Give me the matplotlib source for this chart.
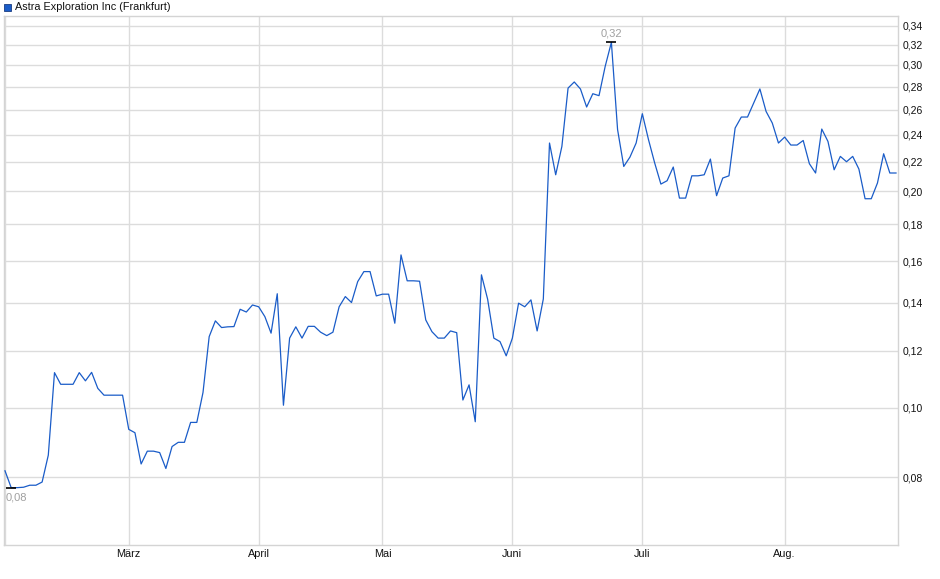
import matplotlib
matplotlib.use('Agg')
import matplotlib.pyplot as plt
from matplotlib.ticker import FixedLocator, NullLocator, FuncFormatter
from matplotlib.patches import Rectangle
import numpy as np

# daily closing prices (EUR), one value per trading day
price = [0.0817, 0.0774, 0.0774, 0.0775, 0.0780, 0.0780, 0.0788, 0.0859, 0.1119, 0.1078,
         0.1078, 0.1078, 0.1119, 0.1090, 0.1120, 0.1064, 0.1041, 0.1041, 0.1041, 0.1041,
         0.0933, 0.0923, 0.0835, 0.0870, 0.0870, 0.0866, 0.0823, 0.0883, 0.0895, 0.0895,
         0.0954, 0.0954, 0.1050, 0.1256, 0.1321, 0.1293, 0.1296, 0.1297, 0.1371, 0.1359,
         0.1390, 0.1382, 0.1339, 0.1270, 0.1441, 0.1008, 0.1250, 0.1296, 0.1250, 0.1298,
         0.1298, 0.1274, 0.1260, 0.1274, 0.1382, 0.1428, 0.1401, 0.1498, 0.1547, 0.1547,
         0.1431, 0.1439, 0.1439, 0.1311, 0.1632, 0.1502, 0.1502, 0.1500, 0.1325, 0.1276,
         0.1250, 0.1250, 0.1279, 0.1272, 0.1025, 0.1076, 0.0956, 0.1531, 0.1416, 0.1250,
         0.1236, 0.1181, 0.1250, 0.1398, 0.1382, 0.1413, 0.1279, 0.1417, 0.2336, 0.2110,
         0.2311, 0.2786, 0.2841, 0.2778, 0.2622, 0.2736, 0.2719, 0.2987, 0.3226, 0.2439,
         0.2167, 0.2233, 0.2336, 0.2566, 0.2361, 0.2191, 0.2048, 0.2070, 0.2163, 0.1958,
         0.1958, 0.2103, 0.2103, 0.2110, 0.2219, 0.1973, 0.2088, 0.2103, 0.2451, 0.2539,
         0.2539, 0.2656, 0.2778, 0.2585, 0.2491, 0.2336, 0.2381, 0.2321, 0.2321, 0.2355,
         0.2186, 0.2122, 0.2443, 0.2348, 0.2144, 0.2238, 0.2200, 0.2238, 0.2149, 0.1954,
         0.1954, 0.2055, 0.2257, 0.2122, 0.2122]

# first trading day of each month (index into price)
month_labels = ['März', 'April', 'Mai', 'Juni', 'Juli', 'Aug.']
month_first_day = [20, 41, 61, 82, 103, 126]

y_ticks = [0.08, 0.10, 0.12, 0.14, 0.16, 0.18, 0.20, 0.22, 0.24, 0.26, 0.28, 0.30, 0.32, 0.34]

title = 'Astra Exploration Inc (Frankfurt)'
line_col = '#1a5cc8'
grid_col = '#dcdcdc'

plt.rcParams['font.family'] = ['Liberation Sans', 'DejaVu Sans']

fig = plt.figure(figsize=(9.4, 5.79), dpi=100)
ax = fig.add_axes([4/940, 34/579, 894/940, 529/579])

x = np.arange(len(price))
ax.plot(x, price, color=line_col, lw=0.9, zorder=3)

ax.set_yscale('log')
ax.set_ylim(0.0644, 0.351)
ax.set_xlim(-0.16, len(price) - 0.68)

# y axis on the right, german decimal comma
ax.yaxis.tick_right()
ax.yaxis.set_major_locator(FixedLocator(y_ticks))
ax.yaxis.set_minor_locator(NullLocator())
ax.yaxis.set_major_formatter(FuncFormatter(lambda v, p: f'{v:.2f}'.replace('.', ',')))
ax.yaxis.set_minor_formatter(FuncFormatter(lambda v, p: ''))
ax.tick_params(axis='y', length=0, pad=3, labelsize=7.5, labelcolor='#111111')

ax.set_xticks([0] + month_first_day)
ax.set_xticklabels([''] + month_labels)
ax.tick_params(axis='x', length=0, pad=3, labelsize=7.8, labelcolor='#111111')

ax.grid(True, color=grid_col, lw=1.0, zorder=0)
for s in ax.spines.values():
    s.set_color('#d4d4d4')
    s.set_linewidth(1.0)

# min / max markers
imax = int(np.argmax(price))
imin = int(np.argmin(price))
ax.plot([imax], [price[imax]], marker='_', ms=6.5, mew=1.2, color='black', zorder=4)
ax.plot([imin], [price[imin]], marker='_', ms=6.5, mew=1.2, color='black', zorder=4)
ax.annotate(f'{price[imax]:.2f}'.replace('.', ','), (imax, price[imax]),
            xytext=(0, 3), textcoords='offset points', ha='center', va='bottom',
            fontsize=8, color='#a0a0a0')
ax.annotate(f'{price[imin]:.2f}'.replace('.', ','), (imin, price[imin]),
            xytext=(-4, -3.5), textcoords='offset points', ha='left', va='top',
            fontsize=8, color='#a0a0a0')

# legend box at the top left
fig.patches.append(Rectangle((4/940, 1 - 11/579), 7/940, 7/579, transform=fig.transFigure,
                             facecolor=line_col, edgecolor='#1a3c80', lw=0.6))
fig.text(15/940, 1 - 7/579, title, fontsize=7.8, va='center', ha='left', color='#111111')

fig.savefig('out.png', dpi=100)
